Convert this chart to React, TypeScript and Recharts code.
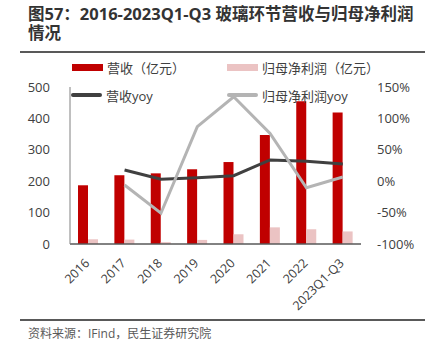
import React from 'react';
import { ComposedChart, Bar, Line, XAxis, YAxis } from 'recharts';

const years = ['2016', '2017', '2018', '2019', '2020', '2021', '2022', '2023Q1-Q3'];
const revenue = [187, 219, 225, 238, 261, 347, 455, 419];
const netProfit = [15, 14, 6, 13, 31, 53, 47, 40];
const revenueYoy = [null, 17.8, 3, 5.6, 8.8, 33.8, 31.7, 27.4];
const profitYoy = [null, -6, -51, 86.8, 134.5, 76, -10.4, 6.7];

const leftTicks = [0, 100, 200, 300, 400, 500];
const rightTicks = [-100, -50, 0, 50, 100, 150];

const names = ['营收（亿元）', '归母净利润（亿元）', '营收yoy', '归母净利润yoy'];

const data = years.map((y, i) => ({
  year: y,
  revenue: revenue[i],
  netProfit: netProfit[i],
  revenueYoy: revenueYoy[i],
  profitYoy: profitYoy[i],
}));

const font = '"Open Sans", "Noto Sans CJK SC", sans-serif';
const textColor = '#404040';

const XTick = (props: any) => {
  const { x, y, payload } = props;
  return (
    <text
      x={x + 2}
      y={y + 12}
      textAnchor="end"
      fill={textColor}
      fontSize={12.5}
      fontFamily={font}
      transform={`rotate(-45, ${x + 2}, ${y + 12})`}
    >
      {payload.value}
    </text>
  );
};

const LegendItem = ({ left, top, kind, color, label }: any) => (
  <div style={{ position: 'absolute', left, top, display: 'flex', alignItems: 'center', height: 18 }}>
    <div
      style={{
        width: 31,
        height: kind === 'bar' ? 7 : 4,
        background: color,
        borderRadius: kind === 'bar' ? 0 : 2,
        marginRight: 4,
      }}
    />
    <span style={{ fontSize: 13, color: textColor, fontFamily: font, whiteSpace: 'nowrap' }}>{label}</span>
  </div>
);

const App: React.FC = () => {
  return (
    <div style={{ position: 'absolute', left: 0, top: 0, width: 435, height: 356, background: '#fff', fontFamily: font }}>
      <div
        style={{
          position: 'absolute',
          left: 28,
          top: 4,
          width: 395,
          fontSize: 16.5,
          lineHeight: '19px',
          fontWeight: 700,
          color: '#333',
        }}
      >
        图57：2016-2023Q1-Q3 玻璃环节营收与归母净利润情况
      </div>
      <div style={{ position: 'absolute', left: 20, top: 51, width: 405, height: 2, background: '#595959' }} />

      <ComposedChart
        width={435}
        height={320}
        data={data}
        margin={{ top: 87, right: 0, bottom: 0, left: 0 }}
        barGap={0}
        barCategoryGap="22%"
      >
        <XAxis
          dataKey="year"
          interval={0}
          tick={<XTick />}
          tickLine={false}
          axisLine={{ stroke: '#595959', strokeWidth: 1.5 }}
          height={76}
        />
        <YAxis
          yAxisId="left"
          domain={[0, 500]}
          ticks={leftTicks}
          width={70}
          tickLine={false}
          axisLine={{ stroke: '#808080', strokeWidth: 1 }}
          tick={{ fill: textColor, fontSize: 13, fontFamily: font }}
          tickMargin={14}
        />
        <YAxis
          yAxisId="right"
          orientation="right"
          domain={[-100, 150]}
          ticks={rightTicks}
          width={74}
          tickLine={false}
          axisLine={false}
          tickFormatter={(v: number) => `${v}%`}
          tick={{ fill: textColor, fontSize: 13, fontFamily: font, textAnchor: 'start' }}
          tickMargin={10}
        />
        <Bar yAxisId="left" dataKey="revenue" name={names[0]} fill="#C00000" barSize={10} isAnimationActive={false} />
        <Bar yAxisId="left" dataKey="netProfit" name={names[1]} fill="#EBC3C3" barSize={10} isAnimationActive={false} />
        <Line
          yAxisId="right"
          dataKey="revenueYoy"
          name={names[2]}
          stroke="#404040"
          strokeWidth={3}
          dot={false}
          isAnimationActive={false}
        />
        <Line
          yAxisId="right"
          dataKey="profitYoy"
          name={names[3]}
          stroke="#B4B4B4"
          strokeWidth={3}
          dot={false}
          isAnimationActive={false}
        />
      </ComposedChart>

      <LegendItem left={72} top={58} kind="bar" color="#C00000" label={names[0]} />
      <LegendItem left={227} top={58} kind="bar" color="#EBC3C3" label={names[1]} />
      <LegendItem left={71} top={86} kind="line" color="#404040" label={names[2]} />
      <LegendItem left={227} top={86} kind="line" color="#B4B4B4" label={names[3]} />

      <div style={{ position: 'absolute', left: 20, top: 319, width: 405, height: 2, background: '#595959' }} />
      <div style={{ position: 'absolute', left: 28, top: 324, fontSize: 12, color: '#595959', fontFamily: font }}>
        资料来源：IFind，民生证券研究院
      </div>
    </div>
  );
};

export default App;
